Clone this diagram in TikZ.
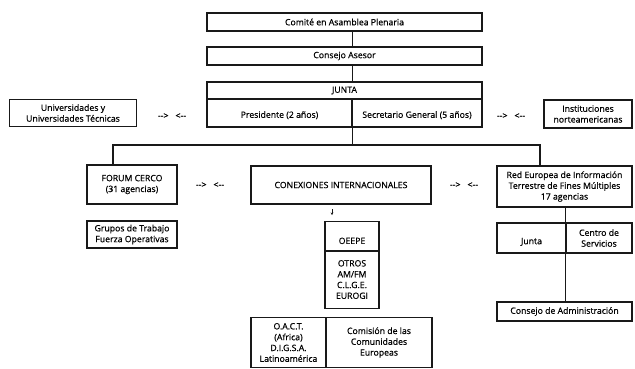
\documentclass[tikz,border=0pt]{standalone}
\usepackage{fontspec}
\setmainfont{Open Sans}
\usetikzlibrary{arrows.meta}
\begin{document}
\begin{tikzpicture}[x=1pt, y=-1pt,
  box/.style={draw=black!90, line width=1.1pt, align=center, inner sep=1pt,
    font=\fontsize{8.7}{10.8}\selectfont\addfontfeature{FakeBold=0.6}},
  link/.style={draw=black!90, line width=1.1pt},
  swapmark/.style={font=\fontsize{8.7}{10.8}\selectfont\addfontfeature{FakeBold=0.6}}]
  \useasboundingbox[fill=white] (0,0) rectangle (635,368);
  % Top column
  \node[box, minimum width=275pt, minimum height=18pt] (comite) at (344.5,22) {Comité en Asamblea Plenaria};
  \node[box, minimum width=275pt, minimum height=18pt] (asesor) at (344.5,56) {Consejo Asesor};
  \node[box, minimum width=275pt, minimum height=17pt] (junta) at (344.5,90.5) {JUNTA};
  \node[box, minimum width=145pt, minimum height=28pt, text height=11pt] (pres) at (279.5,113) {Presidente (2 años)};
  \node[box, minimum width=130pt, minimum height=28pt, text height=11pt] (secr) at (417,113) {Secretario General (5 años)};
  % Side boxes
  \node[box, minimum width=127pt, minimum height=27pt] (univ) at (73,113) {Universidades y\\Universidades Técnicas};
  \node[box, minimum width=88pt, minimum height=28pt] (inst) at (588,114) {Instituciones\\norteamericanas};
  \node[swapmark] (swapL) at (172,116) {-{}->\hspace{7pt}<-{}-};
  \node[swapmark] (swapR) at (511,116) {-{}->\hspace{7pt}<-{}-};
  % Second level
  \node[box, minimum width=90pt, minimum height=39pt] (forum) at (132,184.5) {FORUM CERCO\\(31 agencias)};
  \node[box, minimum width=90pt, minimum height=27pt] (grupos) at (132,234.5) {Grupos de Trabajo\\Fuerza Operativas};
  \node[box, minimum width=180pt, minimum height=38pt] (conex) at (341,185) {CONEXIONES INTERNACIONALES};
  \node[box, minimum width=135pt, minimum height=41pt] (red) at (564.5,186.5) {Red Europea de Información\\Terrestre de Fines Múltiples\\17 agencias};
  \node[swapmark] (swapM) at (210,185) {-{}->\hspace{7pt}<-{}-};
  \node[swapmark] (swapN) at (464,185) {-{}->\hspace{7pt}<-{}-};
  % Red Europea
  \node[box, minimum width=69pt, minimum height=30pt, text height=14pt] (rjunta) at (531.5,238) {Junta};
  \node[box, minimum width=66pt, minimum height=30pt] (centro) at (599,238) {Centro de\\Servicios};
  \node[box, minimum width=135pt, minimum height=19pt] (admin) at (564.5,311.5) {Consejo de Administración};
  % Conexiones
  \node[box, minimum width=54pt, minimum height=29pt, text height=16pt] (oeepe) at (352,236) {OEEPE};
  \node[box, minimum width=54pt, minimum height=57pt, anchor=north] (otros) at (352,250.5) {OTROS\\AM/FM\\C.L.G.E.\\EUROGI};
  \node[box, minimum width=75pt, minimum height=50pt] (oact) at (288.5,342.5) {O.A.C.T.\\(Africa)\\D.I.G.S.A.\\Latinoamérica};
  \node[box, minimum width=106pt, minimum height=50pt] (comis) at (379,342.5) {Comisión de las\\Comunidades\\Europeas};
  % Connectors
  \coordinate (barL) at (113,145);
  \coordinate (barR) at (540,145);
  \coordinate (tick) at (332,209);
  \draw[link] (comite.south -| pres.east) -- (asesor.north -| pres.east);
  \draw[link] (asesor.south -| pres.east) -- (junta.north -| pres.east);
  \draw[link] (pres.south east) -- (pres.south east |- barL);
  \draw[link] (barL |- forum.north) -- (barL) -- (barR) -- (barR |- red.north);
  \draw[link] (red.south -| centro.west) -- (admin.north -| centro.west);
  \draw[link, line width=0.7pt, -{Stealth[length=2.5pt, width=2.5pt]}] (tick) -- ++(0,6);
\end{tikzpicture}
\end{document}
